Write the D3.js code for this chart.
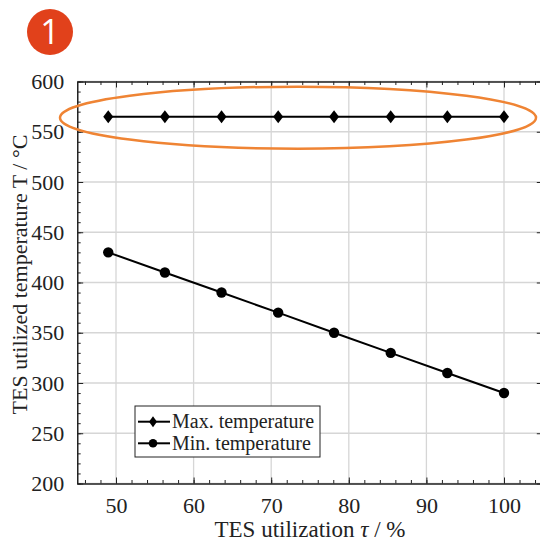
<!DOCTYPE html>
<html>
<head>
<meta charset="utf-8">
<script src="https://cdn.jsdelivr.net/npm/d3@7"></script>
<style>
  body { margin: 0; background: #fff; }
  svg { display: block; }
</style>
</head>
<body>
<div id="chart"></div>
<script>
const utilization = [49, 56.3, 63.6, 70.9, 78.1, 85.4, 92.7, 100];
const maxTemp = [565, 565, 565, 565, 565, 565, 565, 565];
const minTemp = [430, 410, 390, 370, 350, 330, 310, 290];
const xTicks = [50, 60, 70, 80, 90, 100];
const yTicks = [200, 250, 300, 350, 400, 450, 500, 550, 600];
const legendNames = ["Max. temperature", "Min. temperature"];

const W = 540, H = 544;
const serif = "'Liberation Serif', 'Times New Roman', serif";

const svg = d3.select("#chart").append("svg")
    .attr("width", W)
    .attr("height", H);

const x = d3.scaleLinear().domain([45, 105]).range([77.2, 542.8]);
const y = d3.scaleLinear().domain([200, 600]).range([483.5, 81.5]);

// Grid
svg.append("g").selectAll("line.gx")
  .data(xTicks)
  .join("line")
    .attr("x1", d => x(d)).attr("x2", d => x(d))
    .attr("y1", y(200)).attr("y2", y(600))
    .attr("stroke", "#d6d6d6")
    .attr("stroke-width", 1.3);

svg.append("g").selectAll("line.gy")
  .data(yTicks)
  .join("line")
    .attr("x1", x(45)).attr("x2", x(105))
    .attr("y1", d => y(d)).attr("y2", d => y(d))
    .attr("stroke", "#d6d6d6")
    .attr("stroke-width", 1.3);

// Axes (ticks inward)
const xMinor = d3.range(46, 105, 2);
const yMinor = d3.range(200, 601, 10);

function styleAxis(g) {
  g.attr("font-family", serif).attr("font-size", 22);
  g.select(".domain").attr("stroke", "#222").attr("stroke-width", 1.2);
  g.selectAll(".tick line").attr("stroke", "#222").attr("stroke-width", 1);
  g.selectAll(".tick text")
    .attr("font-family", serif)
    .attr("font-size", 22)
    .attr("fill", "#222");
}

svg.append("g")
    .attr("transform", `translate(0,${y(200)})`)
    .call(d3.axisBottom(x).tickValues(xTicks).tickSizeInner(-6).tickSizeOuter(0).tickPadding(14))
    .call(styleAxis);
svg.append("g")
    .attr("transform", `translate(0,${y(200)})`)
    .call(d3.axisBottom(x).tickValues(xMinor).tickSizeInner(-3.5).tickSizeOuter(0).tickFormat(""))
    .call(styleAxis);

svg.append("g")
    .attr("transform", `translate(0,${y(600)})`)
    .call(d3.axisTop(x).tickValues(xTicks).tickSizeInner(-6).tickSizeOuter(0).tickFormat(""))
    .call(styleAxis);
svg.append("g")
    .attr("transform", `translate(0,${y(600)})`)
    .call(d3.axisTop(x).tickValues(xMinor).tickSizeInner(-3.5).tickSizeOuter(0).tickFormat(""))
    .call(styleAxis);

svg.append("g")
    .attr("transform", `translate(${x(45)},0)`)
    .call(d3.axisLeft(y).tickValues(yTicks).tickSizeInner(-6).tickSizeOuter(0).tickPadding(13))
    .call(styleAxis);
svg.append("g")
    .attr("transform", `translate(${x(45)},0)`)
    .call(d3.axisLeft(y).tickValues(yMinor).tickSizeInner(-3.5).tickSizeOuter(0).tickFormat(""))
    .call(styleAxis);

svg.append("g")
    .attr("transform", `translate(${x(105)},0)`)
    .call(d3.axisRight(y).tickValues(yTicks).tickSizeInner(-6).tickSizeOuter(0).tickFormat(""))
    .call(styleAxis);

// Axis titles
svg.append("text")
    .attr("x", 310)
    .attr("y", 537)
    .attr("text-anchor", "middle")
    .attr("font-family", serif)
    .attr("font-size", 23)
    .attr("fill", "#222")
    .html("TES utilization <tspan font-style='italic'>τ</tspan> / %");

svg.append("text")
    .attr("transform", `translate(27,${(y(200) + y(600)) / 2 - 8}) rotate(-90)`)
    .attr("text-anchor", "middle")
    .attr("font-family", serif)
    .attr("font-size", 22)
    .attr("fill", "#222")
    .text("TES utilized temperature T / °C");

// Series
const line = d3.line().x(d => x(d[0])).y(d => y(d[1]));
const maxData = utilization.map((u, i) => [u, maxTemp[i]]);
const minData = utilization.map((u, i) => [u, minTemp[i]]);

const diamond = (w, h) => `M0,${-h}L${w},0L0,${h}L${-w},0Z`;

svg.append("path")
    .attr("d", line(maxData))
    .attr("fill", "none")
    .attr("stroke", "#000")
    .attr("stroke-width", 2);
svg.append("g").selectAll("path")
  .data(maxData)
  .join("path")
    .attr("transform", d => `translate(${x(d[0])},${y(d[1])})`)
    .attr("d", diamond(5, 6.5))
    .attr("fill", "#000");

svg.append("path")
    .attr("d", line(minData))
    .attr("fill", "none")
    .attr("stroke", "#000")
    .attr("stroke-width", 2);
svg.append("g").selectAll("circle")
  .data(minData)
  .join("circle")
    .attr("cx", d => x(d[0]))
    .attr("cy", d => y(d[1]))
    .attr("r", 5.2)
    .attr("fill", "#000");

// Legend
const legend = svg.append("g").attr("transform", "translate(135,406)");
legend.append("rect")
    .attr("width", 185)
    .attr("height", 51)
    .attr("fill", "#fff")
    .attr("stroke", "#222")
    .attr("stroke-width", 1);

legendNames.forEach((name, i) => {
  const ly = 15.7 + i * 21.6;
  legend.append("line")
      .attr("x1", 3).attr("x2", 35)
      .attr("y1", ly).attr("y2", ly)
      .attr("stroke", "#000")
      .attr("stroke-width", 2);
  if (i === 0) {
    legend.append("path")
        .attr("transform", `translate(18,${ly})`)
        .attr("d", diamond(4, 5.5))
        .attr("fill", "#000");
  } else {
    legend.append("circle")
        .attr("cx", 18).attr("cy", ly).attr("r", 4.3)
        .attr("fill", "#000");
  }
  legend.append("text")
      .attr("x", 37)
      .attr("y", ly + 6.5)
      .attr("font-family", serif)
      .attr("font-size", 20)
      .attr("fill", "#222")
      .text(name);
});

// Highlight ellipse
svg.append("ellipse")
    .attr("cx", 298)
    .attr("cy", y(565) + 1)
    .attr("rx", 238)
    .attr("ry", 31)
    .attr("fill", "none")
    .attr("stroke", "#ef8434")
    .attr("stroke-width", 2.5);

// Badge
svg.append("circle")
    .attr("cx", 50)
    .attr("cy", 32)
    .attr("r", 23)
    .attr("fill", "#e1411b");
svg.append("text")
    .attr("x", 50)
    .attr("y", 44)
    .attr("text-anchor", "middle")
    .attr("font-family", "'Open Sans', sans-serif")
    .attr("font-size", 34)
    .attr("fill", "#fff")
    .text("1");
</script>
</body>
</html>
